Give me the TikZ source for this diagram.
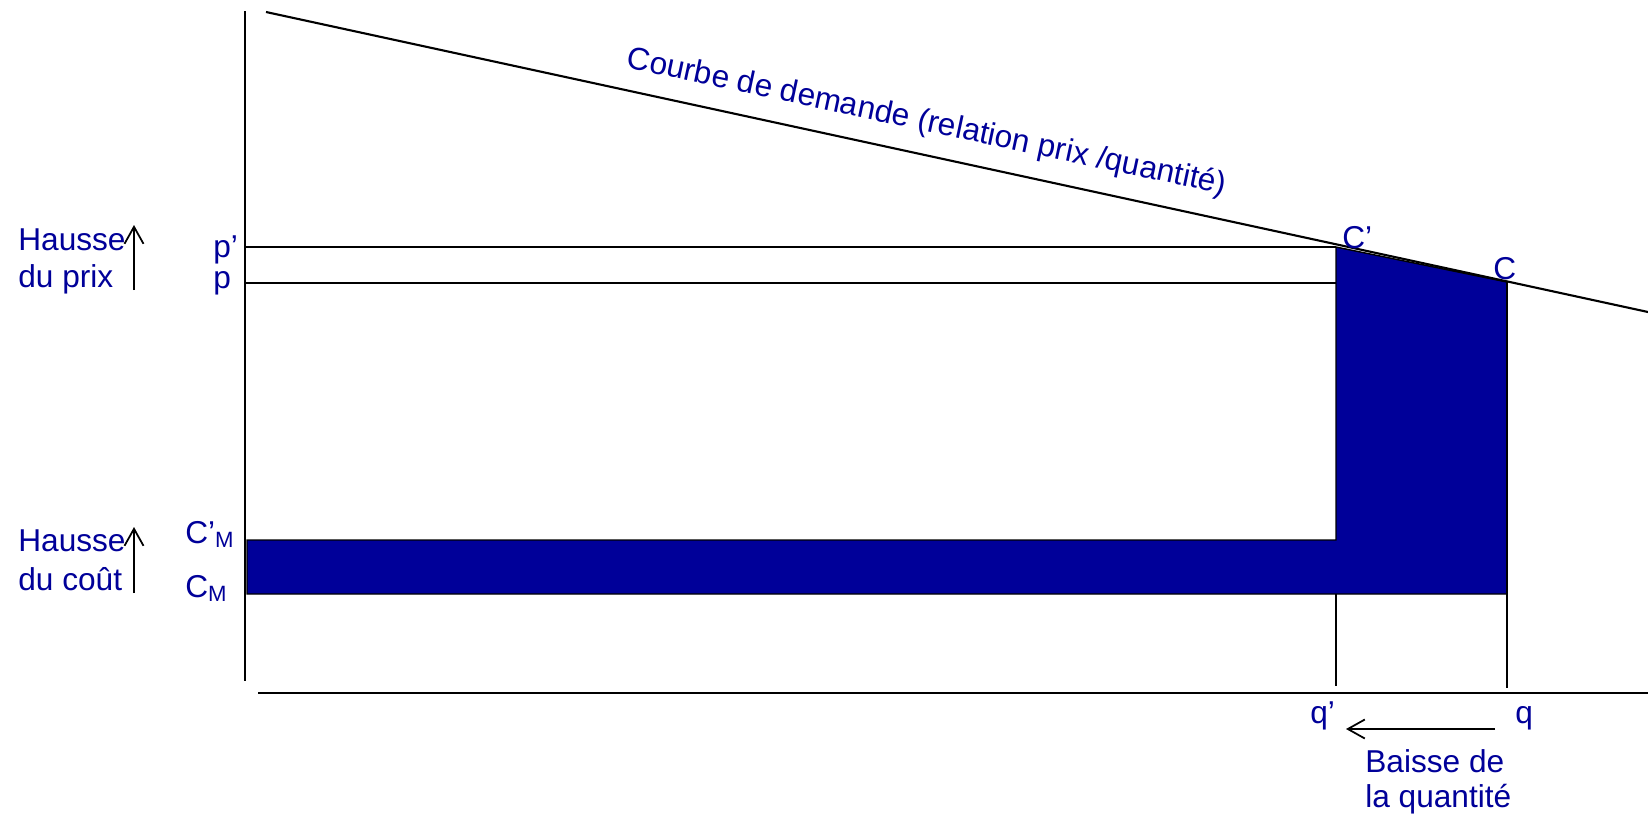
\documentclass[tikz,border=0pt]{standalone}
\usepackage{fontspec}
\setmainfont{Liberation Sans}
\usetikzlibrary{arrows.meta}
\definecolor{bleu}{RGB}{0,0,153}
\tikzset{
  lbl/.style={text=bleu, inner sep=0pt, anchor=base west,
    font=\fontsize{18}{21}\selectfont},
  trait/.style={line width=1.2pt},
  axe/.style={line width=1.5pt},
  fleche/.style={line width=1pt, -{Straight Barb[length=3.4mm,width=3.8mm]}},
}
\begin{document}
\begin{tikzpicture}[x=0.02cm, y=-0.02cm]
      \useasboundingbox (0,0) rectangle (1648,815);
      \coordinate (ytop) at (245,11);
      \coordinate (ybot) at (245,681);
      \coordinate (xleft) at (258,693);
      \coordinate (xright) at (1648,693);
      \coordinate (d0) at (266,12);
      \coordinate (d1) at (1648,312);
      \coordinate (Cp) at (1336,247);
      \coordinate (C) at (1507,282);
      \coordinate (pp) at (245,247);
      \coordinate (p) at (245,283);
      \coordinate (pC) at (1336,283);
      \coordinate (qp) at (1336,686);
      \coordinate (q) at (1507,688);
      \coordinate (cmp) at (1336,594);
      % aires du cout
      \fill[bleu, draw=black, line width=0.8pt]
        (247,540) -- (1336,540) -- (Cp) -- (C) -- (1507,594) -- (247,594) -- cycle;
      \begin{scope}[trait]
        \draw (pp) to (Cp);
        \draw[line width=1.5pt] (p) to (pC);
        \draw (cmp) to (qp);
        \draw[line width=1.5pt] (C) to (q);
        \draw (d0) to (d1);
      \end{scope}
      \draw[axe] (ytop) to (ybot);
      \draw[axe] (xleft) to (xright);
      % fleches
      \draw[fleche] (134,290) to (134,225);
      \draw[fleche] (134,593) to (134,527);
      \draw[fleche] (1495,729) to (1346,729);
      \draw
        (18,250) node[lbl] (hp1){Hausse}
        (18,287) node[lbl] (hp2){du prix}
        (18,551) node[lbl] (hc1){Hausse}
        (18,590) node[lbl] (hc2){du co\^ut}
        (213,257) node[lbl] (lpp){p’}
        (213,288) node[lbl] (lp){p}
        (185,543) node[lbl] (lcmp){C’\textsubscript{M}}
        (185,597) node[lbl] (lcm){C\textsubscript{M}}
        (1342,248) node[lbl] (lCp){C’}
        (1493,279) node[lbl] (lC){C}
        (1310,723) node[lbl] (lqp){q’}
        (1515,723) node[lbl] (lq){q}
        (1365,772) node[lbl] (bq1){Baisse de}
        (1365,807) node[lbl] (bq2){la quantité}
        (925,131) node[lbl, anchor=base, rotate=-12] (courbe){Courbe de demande (relation prix /quantité)};
    \end{tikzpicture}
\end{document}
